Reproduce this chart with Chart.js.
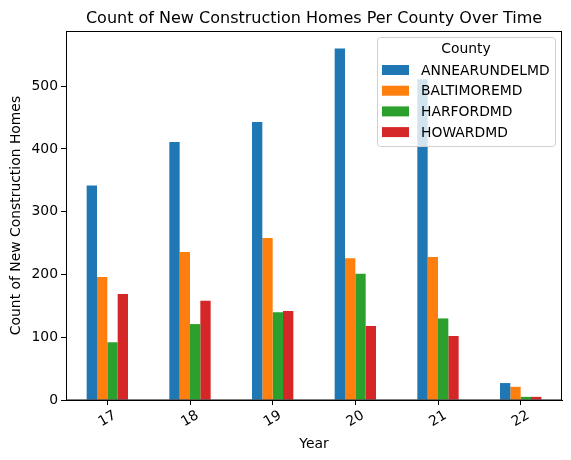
<!DOCTYPE html>
<html>
<head>
<meta charset="utf-8">
<script src="https://cdn.jsdelivr.net/npm/chart.js@4.4.0/dist/chart.umd.min.js"></script>
<style>
  html, body { margin: 0; padding: 0; background: #fff; }
  #wrap { width: 571px; height: 460px; position: relative; }
</style>
</head>
<body>
<div id="wrap"><canvas id="countyChart"></canvas></div>
<script>
// ─── Data ──────────────────────────
const years = ['17', '18', '19', '20', '21', '22'];
const counties = ['ANNEARUNDELMD', 'BALTIMOREMD', 'HARFORDMD', 'HOWARDMD'];
const anneArundel = [342, 411, 443, 560, 511, 27];
const baltimore = [196, 236, 258, 226, 228, 21];
const harford = [92, 121, 140, 201, 130, 5];
const howard = [169, 158, 142, 118, 102, 5];
const yTicks = [0, 100, 200, 300, 400, 500];
const colors = ['#1f77b4', '#ff7f0e', '#2ca02c', '#d62728'];

const FONT = 'DejaVu Sans';

// title + frame + inset legend + rotated x labels (matplotlib style)
const mplDecor = {
    id: 'mplDecor',
    afterDraw(chart) {
        const { ctx, chartArea: a } = chart;
        const xs = chart.scales.x;
        ctx.save();
        // title
        ctx.fillStyle = '#000';
        ctx.font = '16px "' + FONT + '"';
        ctx.textAlign = 'center';
        ctx.textBaseline = 'alphabetic';
        ctx.fillText('Count of New Construction Homes Per County Over Time', (a.left + a.right) / 2, 23);

        // x tick labels, rotated 30deg, centred under the tick
        ctx.font = '13.9px "' + FONT + '"';
        ctx.textBaseline = 'middle';
        ctx.textAlign = 'center';
        const ang = 30 * Math.PI / 180;
        years.forEach((lab, i) => {
            const w = ctx.measureText(lab).width;
            const h = 10.5;
            const bboxH = w * Math.sin(ang) + h * Math.cos(ang);
            const cx = xs.getPixelForValue(i);
            const cy = a.bottom + 10 + bboxH / 2;
            ctx.save();
            ctx.translate(cx, cy);
            ctx.rotate(-ang);
            ctx.fillText(lab, 0, 0);
            ctx.restore();
        });

        // legend box
        const lx = a.right - 185, ly = a.top + 6, lw = 178, lh = 109;
        ctx.beginPath();
        ctx.roundRect(lx + 0.5, ly + 0.5, lw, lh, 3);
        ctx.fillStyle = 'rgba(255,255,255,0.8)';
        ctx.fill();
        ctx.strokeStyle = '#d0d0d0';
        ctx.lineWidth = 1;
        ctx.stroke();

        ctx.fillStyle = '#000';
        ctx.font = '13.9px "' + FONT + '"';
        ctx.textAlign = 'center';
        ctx.textBaseline = 'middle';
        ctx.fillText('County', lx + lw / 2, ly + 12);
        ctx.textAlign = 'left';
        chart.data.datasets.forEach((ds, i) => {
            const cy = ly + 33 + i * 20.7;
            ctx.fillStyle = ds.backgroundColor;
            ctx.fillRect(lx + 5, cy - 5, 27, 10);
            ctx.fillStyle = '#000';
            ctx.fillText(ds.label, lx + 44, cy + 1);
        });

        // frame
        ctx.strokeStyle = '#000';
        ctx.lineWidth = 1;
        ctx.strokeRect(Math.round(a.left) + 0.5, Math.round(a.top) + 0.5,
            Math.round(a.right - a.left) - 1, Math.round(a.bottom - a.top) - 0.5);
        ctx.restore();
    }
};

const series = [anneArundel, baltimore, harford, howard];

new Chart(document.getElementById('countyChart'), {
    type: 'bar',
    data: {
        labels: years,
        datasets: counties.map((name, i) => ({
            label: name,
            data: series[i],
            backgroundColor: colors[i],
            borderWidth: 0,
            categoryPercentage: 0.5,
            barPercentage: 1.0
        }))
    },
    options: {
        responsive: true,
        maintainAspectRatio: false,
        animation: false,
        layout: { padding: { top: 31, right: 9, left: 0, bottom: 0 } },
        plugins: {
            legend: { display: false },
            title: { display: false },
            tooltip: { enabled: false }
        },
        scales: {
            x: {
                offset: true,
                grid: { offset: false, drawOnChartArea: false, drawTicks: true, tickLength: 5, color: '#000' },
                border: { display: true, color: '#000' },
                ticks: {
                    minRotation: 0,
                    maxRotation: 0,
                    color: 'rgba(0,0,0,0)',
                    font: { size: 13.9, family: FONT }
                },
                title: {
                    display: true,
                    text: 'Year',
                    color: '#000',
                    padding: { top: 0, bottom: 7 },
                    font: { size: 13.9, family: FONT }
                },
                afterFit: s => { s.height = 60; }
            },
            y: {
                min: 0,
                max: 588,
                afterBuildTicks: s => { s.ticks = yTicks.map(v => ({ value: v })); },
                grid: { drawOnChartArea: false, drawTicks: true, tickLength: 5, color: '#000' },
                border: { display: true, color: '#000' },
                ticks: {
                    color: '#000',
                    padding: 3,
                    font: { size: 13.9, family: FONT }
                },
                title: {
                    display: true,
                    text: 'Count of New Construction Homes',
                    color: '#000',
                    padding: { top: 8, bottom: 4 },
                    font: { size: 13.9, family: FONT }
                },
                afterFit: s => { s.width = 66; }
            }
        }
    },
    plugins: [mplDecor]
});
</script>
</body>
</html>
